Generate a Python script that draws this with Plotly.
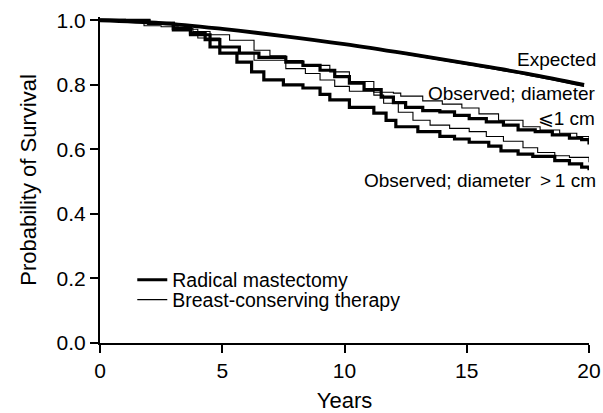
import plotly.graph_objects as go

# ---------------- data ----------------
exp_years = [0, 2.5, 5, 7.5, 10, 12.5, 15, 17.5, 19.8]
exp_rm = [1.0, 0.991, 0.973, 0.951, 0.926, 0.897, 0.866, 0.834, 0.800]
exp_bct = [1.0, 0.991, 0.973, 0.951, 0.925, 0.895, 0.863, 0.830, 0.795]

rm_small_t = [0, 1, 2, 3, 3.7, 4.3, 4.9, 5.7, 6.5, 7.6, 8.3, 9.0, 9.6, 10.2, 10.8,
              11.5, 12, 12.5, 13.2, 13.9, 14.5, 15.1, 15.8, 16.5, 17.1, 17.8, 18.5,
              19.2, 19.7, 20]
rm_small_s = [1.0, 0.998, 0.99, 0.975, 0.96, 0.94, 0.917, 0.898, 0.885, 0.87, 0.86,
              0.845, 0.825, 0.805, 0.785, 0.762, 0.745, 0.73, 0.72, 0.716, 0.705,
              0.695, 0.685, 0.675, 0.66, 0.655, 0.645, 0.635, 0.63, 0.615]

bct_small_t = [0, 1.5, 1.8, 2.5, 3.2, 3.8, 4.5, 5.3, 6.3, 6.95, 7.6, 8.3, 9.4, 10.2,
               11.2, 12, 12.3, 13.2, 14, 14.8, 15.5, 16.3, 17.3, 18, 18.8, 19.5, 20]
bct_small_s = [1.0, 0.995, 0.983, 0.98, 0.975, 0.965, 0.955, 0.938, 0.907, 0.89,
               0.875, 0.86, 0.84, 0.81, 0.777, 0.774, 0.765, 0.75, 0.74, 0.728, 0.71,
               0.69, 0.67, 0.66, 0.65, 0.64, 0.63]

bct_large_t = [0, 2, 3, 4, 4.9, 6.3, 7.6, 8.4, 9.0, 9.6, 10.2, 11.2, 11.6, 12.2, 12.8,
               13.5, 14.3, 15.1, 15.8, 16.5, 17.3, 17.9, 18.6, 19.2, 20]
bct_large_s = [1.0, 0.99, 0.972, 0.945, 0.9, 0.876, 0.85, 0.835, 0.815, 0.795, 0.78,
               0.768, 0.743, 0.715, 0.69, 0.675, 0.665, 0.655, 0.64, 0.625, 0.605,
               0.59, 0.58, 0.575, 0.56]

rm_large_t = [0, 2, 3, 3.7, 4.5, 4.9, 5.6, 6.2, 6.7, 7.5, 8.3, 9.0, 9.4, 10.2, 11.2,
              11.7, 12.1, 13, 13.9, 14.5, 15.1, 15.9, 16.4, 17.1, 17.7, 18.6, 19.2,
              19.7, 20]
rm_large_s = [1.0, 0.99, 0.97, 0.955, 0.917, 0.898, 0.87, 0.84, 0.815, 0.8, 0.79,
              0.77, 0.753, 0.73, 0.712, 0.69, 0.67, 0.655, 0.64, 0.632, 0.622, 0.61,
              0.595, 0.585, 0.578, 0.565, 0.555, 0.545, 0.535]

x_ticks = [0, 5, 10, 15, 20]
y_ticks = [0.0, 0.2, 0.4, 0.6, 0.8, 1.0]
y_tick_text = ["0.0", "0.2", "0.4", "0.6", "0.8", "1.0"]

legend_names = ["Radical mastectomy", "Breast-conserving therapy"]

FONT = "Liberation Sans, Arial, Helvetica, sans-serif"
THICK = 3.2
THIN = 1.1

fig = go.Figure()

# expected curves
fig.add_trace(go.Scatter(x=exp_years, y=exp_rm, mode="lines",
                         line=dict(color="black", width=THICK + 0.6, shape="spline"),
                         showlegend=False, hoverinfo="skip"))
fig.add_trace(go.Scatter(x=exp_years, y=exp_bct, mode="lines",
                         line=dict(color="black", width=THIN, shape="spline"),
                         showlegend=False, hoverinfo="skip"))

# observed curves
fig.add_trace(go.Scatter(x=bct_small_t, y=bct_small_s, mode="lines",
                         line=dict(color="black", width=THIN, shape="hv"),
                         showlegend=False))
fig.add_trace(go.Scatter(x=bct_large_t, y=bct_large_s, mode="lines",
                         line=dict(color="black", width=THIN, shape="hv"),
                         name=legend_names[1], legend="legend2"))
fig.add_trace(go.Scatter(x=rm_small_t, y=rm_small_s, mode="lines",
                         line=dict(color="black", width=THICK, shape="hv"),
                         name=legend_names[0], legend="legend"))
fig.add_trace(go.Scatter(x=rm_large_t, y=rm_large_s, mode="lines",
                         line=dict(color="black", width=THICK, shape="hv"),
                         showlegend=False))

ann_font = dict(family=FONT, size=19, color="black")
annotations = [
    dict(text="Expected", x=1.018, xref="paper", y=0.877, yref="y",
         xanchor="right", yanchor="middle", showarrow=False, font=ann_font),
    dict(text="Observed; diameter<br>⩽1 cm", x=1.018, xref="paper", y=0.735, yref="y",
         xanchor="right", yanchor="middle", align="right", showarrow=False, font=ann_font),
    dict(text="Observed; diameter \u2009>\u20091 cm", x=1.018, xref="paper", y=0.502,
         yref="y", xanchor="right", yanchor="middle", showarrow=False, font=ann_font),
]

leg_common = dict(bgcolor="rgba(0,0,0,0)", borderwidth=0, xanchor="left",
                  yanchor="middle", font=dict(family=FONT, size=19.5, color="black"),
                  itemwidth=30, tracegroupgap=0)

fig.update_layout(
    width=603, height=413,
    margin=dict(l=100, r=14, t=17, b=70, autoexpand=False),
    paper_bgcolor="white", plot_bgcolor="white",
    font=dict(family=FONT, color="black"),
    annotations=annotations,
    legend=dict(x=0.066, y=0.193, **leg_common),
    legend2=dict(x=0.066, y=0.132, **leg_common),
    xaxis=dict(range=[0, 20], tickvals=x_ticks, ticks="outside", ticklen=8,
               tickwidth=2, tickcolor="black", showline=True, linecolor="black",
               linewidth=2, showgrid=False, zeroline=False,
               tickfont=dict(family=FONT, size=21, color="black"),
               title=dict(text="Years", font=dict(family=FONT, size=22, color="black"),
                          standoff=17),
               automargin=False),
    yaxis=dict(range=[0, 1.01], tickvals=y_ticks, ticktext=y_tick_text,
               ticks="outside", ticklen=8, tickwidth=2, tickcolor="black",
               showline=True, linecolor="black", linewidth=2, showgrid=False,
               zeroline=False,
               tickfont=dict(family=FONT, size=21, color="black"),
               title=dict(text="Probability of Survival",
                          font=dict(family=FONT, size=22, color="black"), standoff=14),
               automargin=False),
)

fig.write_html(
    "out.html",
    config={"displayModeBar": False},
    post_script="document.body.style.margin='0';document.body.style.overflow='hidden';",
)
